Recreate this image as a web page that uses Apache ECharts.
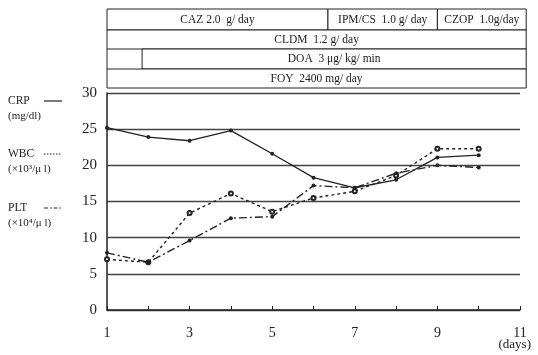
<!DOCTYPE html>
<html>
<head>
<meta charset="utf-8">
<script src="https://cdn.jsdelivr.net/npm/echarts@6/dist/echarts.min.js"></script>
<style>
  html, body { margin: 0; background: #fff; }
  #chart { width: 538px; height: 355px; }
</style>
</head>
<body>
<div id="chart"></div>
<script>
// 数据
const days = [1, 2, 3, 4, 5, 6, 7, 8, 9, 10];
const crp = [25.2, 23.9, 23.4, 24.8, 21.6, 18.3, 16.9, 18.0, 21.1, 21.4];
const wbc = [7.0, 6.6, 13.4, 16.1, 13.6, 15.5, 16.4, 18.6, 22.3, 22.3];
const plt = [7.9, 6.6, 9.6, 12.7, 12.9, 17.2, 16.9, 18.9, 20.0, 19.7];

// 投药期间 (day)
const drugNames = ['CAZ 2.0  g/ day', 'IPM/CS  1.0 g/ day', 'CZOP  1.0g/day', 'CLDM  1.2 g/ day', 'DOA  3 \u03bcg/ kg/ min', 'FOY  2400 mg/ day'];
const drugStart = [1, 6.35, 9.0, 1, 1.85, 1];
const drugEnd = [6.35, 9.0, 11.15, 11.15, 11.15, 11.15];
const drugRow = [0, 0, 0, 1, 2, 3];

const serif = "'Liberation Serif', 'DejaVu Serif', serif";
const ink = '#222';

const chart = echarts.init(document.getElementById('chart'));

const pair = arr => days.map((d, i) => [d, arr[i]]);

chart.setOption({
  animation: false,
  backgroundColor: '#fff',
  grid: { left: 107, right: 18, top: 93, bottom: 45 },
  xAxis: {
    type: 'value',
    min: 1,
    max: 11,
    interval: 1,
    axisLine: { lineStyle: { color: ink, width: 1.5 } },
    axisTick: { inside: true, length: 4, lineStyle: { color: ink } },
    axisLabel: {
      margin: 16,
      color: ink,
      fontFamily: serif,
      fontSize: 14,
      formatter: v => (v % 2 === 1 ? String(v) : '')
    },
    splitLine: { show: false }
  },
  yAxis: {
    type: 'value',
    min: 0,
    max: 30,
    interval: 5,
    axisLine: { show: true, lineStyle: { color: ink, width: 1.5 } },
    axisTick: { show: false },
    axisLabel: { margin: 10, color: ink, fontFamily: serif, fontSize: 15 },
    splitLine: { lineStyle: { color: '#444', width: 1.3 } }
  },
  series: [
    {
      name: 'CRP',
      type: 'line',
      data: pair(crp),
      symbol: 'circle',
      symbolSize: 4,
      itemStyle: { color: ink },
      lineStyle: { color: ink, width: 1.3 }
    },
    {
      name: 'WBC',
      type: 'line',
      data: pair(wbc),
      symbol: 'emptyCircle',
      symbolSize: 4,
      itemStyle: { color: ink, borderWidth: 1.2 },
      lineStyle: { color: ink, width: 1.4, type: [3, 3] }
    },
    {
      name: 'PLT',
      type: 'line',
      data: pair(plt),
      symbol: 'circle',
      symbolSize: 4,
      itemStyle: { color: ink },
      lineStyle: { color: ink, width: 1.4, type: [8, 3, 2, 3] }
    }
  ]
});

// 上部投药框 + 左侧图例
const rowTop = [9, 30, 49, 69];
const rowH = [21, 19, 20, 19];
const gfx = [];

drugNames.forEach((name, i) => {
  const x0 = chart.convertToPixel({ xAxisIndex: 0 }, drugStart[i]);
  const x1 = chart.convertToPixel({ xAxisIndex: 0 }, drugEnd[i]);
  const r = drugRow[i];
  gfx.push({
    type: 'rect',
    shape: { x: x0, y: rowTop[r], width: x1 - x0, height: rowH[r] },
    style: { fill: '#fff', stroke: ink, lineWidth: 1 },
    z: 10
  });
  gfx.push({
    type: 'text',
    x: (x0 + x1) / 2,
    y: rowTop[r] + rowH[r] / 2,
    style: { text: name, fill: ink, font: '11.5px ' + serif, align: 'center', verticalAlign: 'middle' },
    z: 11
  });
});

// DOA 行左侧空白格
const xLeft = chart.convertToPixel({ xAxisIndex: 0 }, 1);
gfx.push({
  type: 'line',
  shape: { x1: xLeft, y1: rowTop[2], x2: xLeft, y2: rowTop[3] },
  style: { stroke: ink, lineWidth: 1 },
  z: 10
});

const legendItems = [
  { label: 'CRP', unit: '(mg/dl)', y: 101, dash: null },
  { label: 'WBC', unit: '(\u00d710\u00b3/\u03bc l)', y: 154, dash: [1.5, 1.5] },
  { label: 'PLT', unit: '(\u00d710\u2074/\u03bc l)', y: 208, dash: [4, 2, 1.5, 2] }
];
legendItems.forEach(it => {
  gfx.push({
    type: 'text', x: 8, y: it.y,
    style: { text: it.label, fill: ink, font: '11.5px ' + serif, verticalAlign: 'middle' }
  });
  gfx.push({
    type: 'text', x: 8, y: it.y + 15,
    style: { text: it.unit, fill: ink, font: '11px ' + serif, verticalAlign: 'middle' }
  });
  gfx.push({
    type: 'line',
    shape: { x1: 44, y1: it.y, x2: 62, y2: it.y },
    style: { stroke: ink, lineWidth: 1.2, lineDash: it.dash }
  });
});

gfx.push({
  type: 'text', x: 531, y: 345,
  style: { text: '(days)', fill: ink, font: '13px ' + serif, align: 'right', verticalAlign: 'middle' }
});

chart.setOption({ graphic: gfx });
</script>
</body>
</html>
